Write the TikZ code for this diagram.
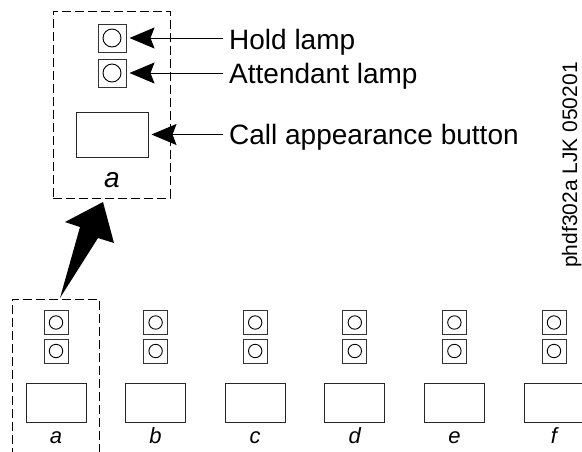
\documentclass[tikz,border=0pt]{standalone}
\usepackage{fontspec}
\setmainfont{Liberation Sans}
\usetikzlibrary{arrows.meta}
\tikzset{
  dashbox/.style={draw, line width=0.9pt, dash pattern=on 9pt off 4pt},
  biglamp/.style={draw=black!80, line width=1pt, minimum width=28pt, minimum height=28pt, inner sep=0pt},
  smalllamp/.style={draw=black!80, line width=1pt, minimum width=24pt, minimum height=24pt, inner sep=0pt},
  button/.style={draw=black!85, line width=1pt, inner sep=0pt},
  lbl/.style={inner sep=0pt, anchor=base west, font=\fontsize{28}{32}\selectfont},
  keylbl/.style={inner sep=0pt, anchor=base, font=\fontsize{22}{26}\selectfont\itshape},
  pointer/.style={line width=0.9pt, -{Stealth[length=25pt,width=21pt,inset=4pt]}, shorten >=3pt},
}
\begin{document}
\begin{tikzpicture}[x=1pt,y=-1pt]
\useasboundingbox (0,0) rectangle (582,451);
% enlarged view
\node[dashbox, minimum width=117pt, minimum height=187pt, inner sep=0pt] (zoom) at (111.5,104.5) {};
\node[biglamp] (hl) at (112,38) {};
\draw[line width=0.9pt] (hl) circle (9pt);
\node[biglamp] (al) at (112,73) {};
\draw[line width=0.9pt] (al) circle (9pt);
\node[button, minimum width=72pt, minimum height=45pt] (cb) at (112,134.5) {};
\node[inner sep=0pt, anchor=base, font=\fontsize{28}{32}\selectfont\itshape] (za) at (112,187) {a};
% labels
\node[lbl] (hold) at (229,49) {Hold lamp};
\node[lbl] (att) at (229,83) {Attendant lamp};
\node[lbl] (call) at (229,144) {Call appearance button};
\draw[pointer] ([xshift=-6pt]hold.west |- hl.east) -- (hl.east);
\draw[pointer] ([xshift=-6pt]att.west |- al.east) -- (al.east);
\draw[pointer] ([xshift=-6pt]call.west |- cb.east) -- (cb.east);
% id text
\node[inner sep=0pt, rotate=90, anchor=base, font=\fontsize{21}{24}\selectfont] (id) at (577,165) {phdf302a LJK 050201};
% bottom row
\foreach \i/\t in {0/a,1/b,2/c,3/d,4/e,5/f}{
  \pgfmathsetmacro{\cx}{56+99.6*\i}
  \node[smalllamp] (u\t) at (\cx,322.5) {};
  \draw[line width=0.9pt] (u\t) circle (6.7pt);
  \node[smalllamp] (l\t) at (\cx,351) {};
  \draw[line width=0.9pt] (l\t) circle (6.7pt);
  \node[button, minimum width=60pt, minimum height=39pt] (b\t) at (\cx,402.5) {};
  \node[keylbl] (k\t) at (\cx,443) {\t};
}
% dashed frame around a
\coordinate (fl) at (12,470);
\coordinate (fr) at (99,470);
\draw[dashbox] (fl) -- (12,299) -- (99,299) -- (fr);
% fat arrow
\fill (60,298) -- (80,227) -- (65,222) -- (103,202) -- (114,243) -- (98,238) -- cycle;
\end{tikzpicture}
\end{document}
